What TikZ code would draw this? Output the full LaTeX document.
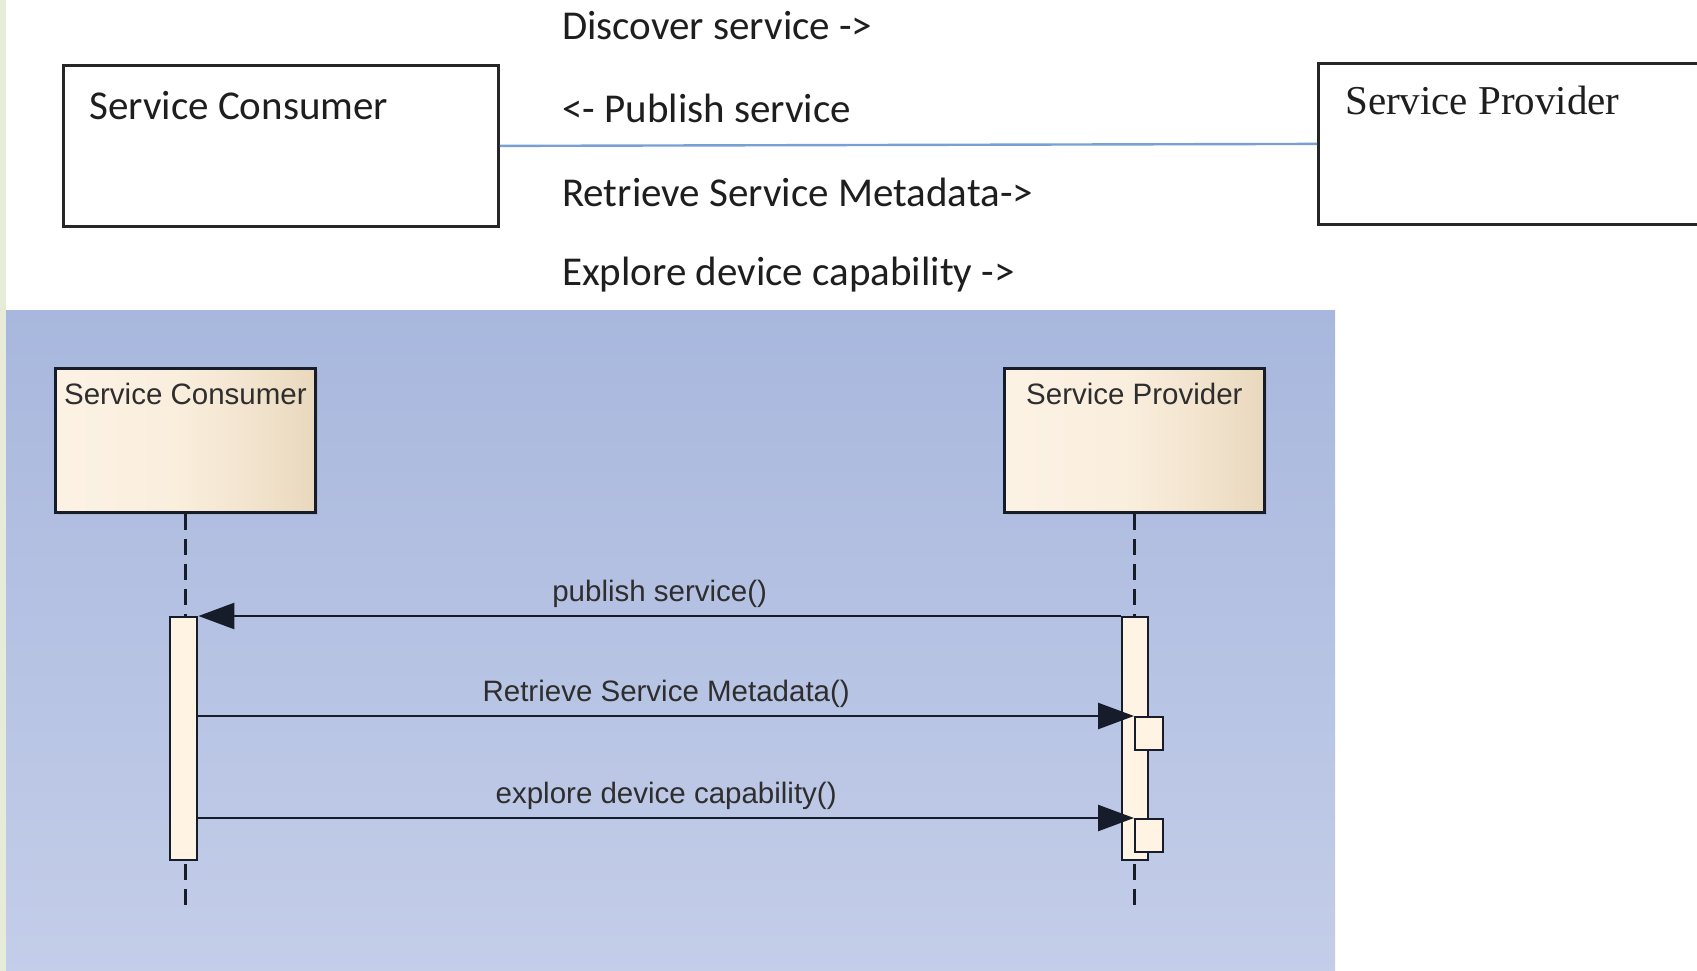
\documentclass[tikz,border=0pt]{standalone}
\usepackage{fontspec}
\newfontfamily\calfont{Carlito}
\newfontfamily\timesfont{Liberation Serif}
\newfontfamily\arialfont{Liberation Sans}
\usetikzlibrary{arrows.meta,shadows}

\definecolor{panelTop}{RGB}{168,183,221}
\definecolor{panelBot}{RGB}{196,206,233}
\definecolor{stripcol}{RGB}{230,236,216}
\definecolor{linkblue}{RGB}{120,160,212}
\definecolor{ink}{RGB}{22,28,42}
\definecolor{textgray}{RGB}{30,30,30}
\definecolor{beigeL}{RGB}{252,242,228}
\definecolor{beigeM}{RGB}{250,238,221}
\definecolor{beigeR}{RGB}{233,216,189}
\definecolor{actfill}{RGB}{255,244,228}

% lifeline head fill: light on the left, darker towards the right edge
\pgfdeclarehorizontalshading{lifeshade}{100bp}{color(0bp)=(beigeL); color(25bp)=(beigeL);
  color(48bp)=(beigeM); color(62bp)=(beigeM!55!beigeR); color(75bp)=(beigeR); color(100bp)=(beigeR)}

\begin{document}
\begin{tikzpicture}[x=1pt,y=-1pt,
  topbox/.style={draw=black!85, line width=2.8pt, fill=white, inner sep=0pt, anchor=north west},
  toptext/.style={font=\calfont\fontsize{41}{48}\selectfont, text=textgray, anchor=west, inner sep=0pt},
  lifebox/.style={draw=ink, line width=2.8pt, shading=lifeshade, inner sep=0pt, anchor=north west,
    minimum width=260pt, minimum height=144pt,
    drop shadow={shadow xshift=3pt, shadow yshift=-3pt, opacity=0.18}},
  lifetext/.style={font=\arialfont\fontsize{29.5}{34}\selectfont, text=black!82, inner sep=0pt},
  actbar/.style={draw=ink, line width=2.4pt, fill=actfill, inner sep=0pt, anchor=north west},
  lifeline/.style={draw=ink, line width=2.6pt, dash pattern=on 16pt off 9pt},
  msg/.style={draw=ink, line width=2.6pt, -{Triangle[length=36pt, width=26pt]}},
  msglabel/.style={font=\arialfont\fontsize{29.5}{34}\selectfont, text=black!82, anchor=base, inner sep=0pt}]

\useasboundingbox (0,0) rectangle (1697,971);
\clip (0,0) rectangle (1697,971);

% background strip and shaded diagram panel
\fill[white] (0,0) rectangle (1697,971);
\fill[stripcol] (0,0) rectangle (6,971);
\fill[top color=panelTop, bottom color=panelBot] (6,310) rectangle (1335,980);

% upper sketch: two participants joined by a link
\node[topbox, minimum width=435pt, minimum height=161pt] (tc) at (62,64) {};
\node[topbox, minimum width=420pt, minimum height=161pt] (tp) at (1317,62) {};
\draw[linkblue, line width=2.4pt] (tc.east) -- (tp.west);
\node[toptext] (tct) at (89,106) {Service Consumer};
\node[font=\timesfont\fontsize{41}{48}\selectfont, text=textgray, anchor=west, inner sep=0pt] (tpt) at (1345,100) {Service Provider};

\node[toptext] (m1) at (562,26) {Discover service ->};
\node[toptext] (m2) at (562,108) {<- Publish service};
\node[toptext] (m3) at (562,192) {Retrieve Service Metadata->};
\node[toptext] (m4) at (562,275) {Explore device capability ->};

% sequence diagram: lifeline heads
\node[lifebox] (lc) at (54,367) {};
\node[lifebox] (lp) at (1003,367) {};
\node[lifetext, anchor=north] (lct) at ([yshift=-16pt]lc.north) {Service Consumer};
\node[lifetext, anchor=north] (lpt) at ([yshift=-16pt]lp.north) {Service Provider};

% lifelines
\coordinate (lcend) at (lc.south |- 0,907);
\coordinate (lpend) at (lp.south |- 0,907);
\draw[lifeline] (lc.south) -- (lcend);
\draw[lifeline] (lp.south) -- (lpend);

% activation bars
\node[actbar, minimum width=27pt, minimum height=243pt] (ca) at (169,616) {};
\node[actbar, minimum width=26pt, minimum height=243pt] (pa) at (1121,616) {};
\node[actbar, minimum width=28pt, minimum height=33pt] (pn1) at (1134,716) {};
\node[actbar, minimum width=28pt, minimum height=33pt] (pn2) at (1134,818) {};

% messages
\draw[msg] (pa.north west) -- (ca.north east)
  node[msglabel, pos=0.5, yshift=15pt] (l1) {publish service()};
\draw[msg] (ca.east |- pn1.north) -- (pn1.north west)
  node[msglabel, pos=0.5, yshift=15pt] (l2) {Retrieve Service Metadata()};
\draw[msg] (ca.east |- pn2.north) -- (pn2.north west)
  node[msglabel, pos=0.5, yshift=15pt] (l3) {explore device capability()};

\end{tikzpicture}
\end{document}
